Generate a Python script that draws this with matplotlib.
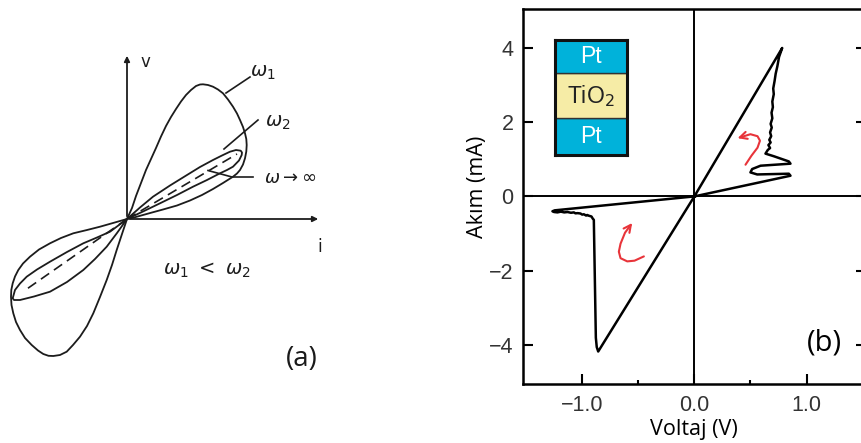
import matplotlib.pyplot as plt
from matplotlib.path import Path
from matplotlib.patches import FancyArrowPatch

# ---- panel (a): pinched hysteresis loops (schematic, arbitrary units) ----
w1_up_i = [0, 0.5, 0.9, 1.4, 1.9, 2.4, 2.9, 3.4, 3.9, 4.4, 4.9, 5.4, 5.9, 6.4, 6.9, 7.3, 7.6,
           8.1, 8.6, 9.1, 9.6, 10.1, 10.6, 11.0, 11.3, 11.6, 11.8, 11.93, 11.97, 11.93,
           11.8, 11.6, 11.3, 11.0, 10.6, 9.6, 8.6, 7.5, 6.3, 5.0, 3.6, 2.5, 1.6, 0.7, 0]
w1_up_v = [0, 1.1, 2.3, 3.6, 4.9, 6.0, 7.1, 8.25, 9.3, 10.2, 11.0, 11.75, 12.4, 12.9, 13.3,
           13.45, 13.47, 13.4, 13.23, 12.95, 12.57, 11.95, 11.23, 10.55, 9.9, 9.2, 8.57, 8.0,
           7.4, 6.75, 6.07, 5.45, 4.9, 4.55, 4.23, 3.6, 3.0, 2.4, 1.85, 1.35, 0.95, 0.65, 0.4,
           0.15, 0]
w2_up_i = [0, 1.3, 2.6, 4.3, 6.0, 7.3, 8.6, 9.5, 10.3, 10.9, 11.37, 11.5, 11.47, 11.2, 10.6,
           10.0, 9.3, 8.0, 6.6, 5.0, 3.3, 1.6, 0]
w2_up_v = [0, 1.15, 2.23, 3.35, 4.4, 5.2, 5.9, 6.35, 6.73, 6.9, 6.83, 6.65, 6.4, 5.85, 5.23,
           4.9, 4.57, 3.9, 3.23, 2.4, 1.57, 0.75, 0]
inf_up = (11.0, 6.5)

w1_lo_i = [0, -1.4, -2.7, -4.0, -5.37, -6.6, -7.7, -8.8, -9.7, -10.4, -10.87, -11.2, -11.43,
           -11.57, -11.6, -11.55, -11.37, -11.1, -10.7, -10.2, -9.53, -8.9, -8.37, -7.85,
           -7.37, -6.7, -6.03, -5.4, -4.7, -4.0, -3.37, -2.7, -2.03, -1.5, -1.03, -0.5, 0]
w1_lo_v = [0, -0.4, -0.77, -1.1, -1.43, -1.9, -2.43, -3.05, -3.77, -4.45, -5.1, -5.75, -6.43,
           -7.1, -7.77, -8.6, -9.43, -10.3, -11.1, -11.9, -12.6, -13.15, -13.5, -13.68,
           -13.7, -13.6, -13.27, -12.6, -11.77, -10.7, -9.43, -7.8, -6.1, -4.6, -3.1, -1.5, 0]
w2_lo_i = [0, -0.8, -1.7, -3.0, -4.37, -6.0, -7.7, -9.0, -10.03, -10.7, -11.2, -11.43, -11.3,
           -10.7, -9.3, -7.7, -6.0, -4.37, -3.2, -2.03, -1.0, 0]
w2_lo_v = [0, -0.6, -1.27, -1.85, -2.43, -3.3, -4.27, -5.05, -5.77, -6.45, -7.1, -7.93, -8.1,
           -8.1, -7.75, -7.27, -6.3, -5.1, -4.0, -2.77, -1.4, 0]
inf_lo = (-10.3, -7.2)

# ---- panel (b): Pt/TiO2/Pt I-V sweep ----
volt = [0.0, 0.857, 0.842, 0.56, 0.50, 0.515, 0.59, 0.857, 0.842, 0.708, 0.634, 0.655,
        0.675, 0.66, 0.68, 0.668, 0.685, 0.675, 0.69, 0.68, 0.695, 0.688, 0.70, 0.695,
        0.708, 0.703, 0.715, 0.725, 0.74, 0.755, 0.783,
        0.0, -0.857, -0.87, -0.878, -0.896, -0.905, -0.917, -0.94, -0.955, -0.965, -0.985,
        -1.0, -1.015, -1.04, -1.06, -1.074, -1.10, -1.13, -1.16, -1.19, -1.22, -1.25,
        -1.265, -1.245, 0.0]
curr = [0.0, 0.556, 0.61, 0.59, 0.645, 0.735, 0.825, 0.88, 0.94, 1.08, 1.15, 1.25,
        1.30, 1.38, 1.45, 1.52, 1.62, 1.72, 1.85, 1.95, 2.1, 2.25, 2.4, 2.55,
        2.75, 2.9, 3.1, 3.3, 3.5, 3.75, 3.99,
        0.0, -4.17, -4.05, -3.8, -0.63, -0.60, -0.54, -0.52, -0.50, -0.515, -0.48,
        -0.49, -0.46, -0.45, -0.455, -0.43, -0.44, -0.42, -0.43, -0.41, -0.43, -0.42,
        -0.40, -0.375, 0.0]

arrow_up_v = [0.456, 0.509, 0.563, 0.585, 0.563, 0.500, 0.385]
arrow_up_i = [0.852, 1.094, 1.309, 1.497, 1.618, 1.672, 1.565]
arrow_lo_v = [-0.45, -0.533, -0.598, -0.658, -0.673, -0.658, -0.618, -0.554]
arrow_lo_i = [-1.613, -1.728, -1.747, -1.661, -1.487, -1.272, -0.976, -0.715]

layer_names = ['Pt', 'TiO$_2$', 'Pt']          # bottom to top
layer_thick = [36.7, 45.0, 33.3]
layer_colors = ['#00b2da', '#f6eca6', '#00b2da']
layer_text = ['white', '#222222', 'white']

xticks = [-1.0, 0.0, 1.0]
xtick_labels = ['\u22121.0', '0.0', '1.0']
yticks = [-4, -2, 0, 2, 4]
ytick_labels = ['\u22124', '\u22122', '0', '2', '4']

fig = plt.figure(figsize=(8.61, 4.43), dpi=100)

# ---------------- (a) ----------------
ink = '#1c1c1c'
axa = fig.add_axes([0, 0, 340 / 861, 1])
axa.set_xlim(-12.7, 21.3)
axa.set_ylim(-22.4, 21.9)
axa.axis('off')

axa.annotate('', xy=(19.4, 0), xytext=(0, 0),
             arrowprops=dict(arrowstyle='-|>', lw=1.3, color=ink, mutation_scale=8))
axa.annotate('', xy=(0, 16.6), xytext=(0, 0),
             arrowprops=dict(arrowstyle='-|>', lw=1.3, color=ink, mutation_scale=8))

for xs, ys in [(w1_up_i, w1_up_v), (w2_up_i, w2_up_v),
               (w1_lo_i, w1_lo_v), (w2_lo_i, w2_lo_v)]:
    axa.plot(xs, ys, color=ink, lw=1.3)
for tip in [inf_up, inf_lo]:
    axa.plot([0, tip[0]], [0, tip[1]], color=ink, lw=1.2, linestyle=(0, (6, 3.5)))

# label leaders
axa.plot([12.3, 9.9], [14.2, 12.6], color=ink, lw=1.2)
axa.plot([13.1, 9.7], [9.9, 7.0], color=ink, lw=1.2)
axa.plot([12.6, 10.5, 8.1], [4.2, 4.2, 4.85], color=ink, lw=1.2)

axa.text(1.8, 15.7, 'v', fontsize=12, color=ink, ha='center', va='center')
axa.text(19.3, -2.8, 'i', fontsize=12, color=ink, ha='center', va='center')
axa.text(13.6, 14.6, r'$\omega_1$', fontsize=14, color=ink, ha='center', va='center')
axa.text(15.1, 9.6, r'$\omega_2$', fontsize=14, color=ink, ha='center', va='center')
axa.text(16.3, 4.1, r'$\omega\rightarrow\infty$', fontsize=13, color=ink, ha='center', va='center')
axa.text(8.0, -5.1, r'$\omega_1\ <\ \omega_2$', fontsize=14, color=ink, ha='center', va='center')
axa.text(17.45, -14.0, '(a)', fontsize=20, family='Open Sans', color='#1a1a1a',
         ha='center', va='center')

# ---------------- (b) ----------------
px_left, px_right, px_bot, px_top = 522.7, 866.0, 383.5, 9.3
ax = fig.add_axes([px_left / 861, (443 - px_bot) / 443,
                   (px_right - px_left) / 861, (px_bot - px_top) / 443])
ax.set_xlim(-1.53, 1.53)
ax.set_ylim(-5.03, 5.03)

ax.axhline(0, color='black', lw=1.4)
ax.axvline(0, color='black', lw=1.4)
ax.plot(volt, curr, color='black', lw=1.8)

red = '#e8343a'
for xs, ys in [(arrow_up_v, arrow_up_i), (arrow_lo_v, arrow_lo_i)]:
    arr = FancyArrowPatch(path=Path(list(zip(xs, ys))), arrowstyle='->',
                          mutation_scale=13, lw=1.5, color=red)
    ax.add_patch(arr)

for s in ax.spines.values():
    s.set_linewidth(1.8)
    s.set_color('black')

ax.set_xticks(xticks)
ax.set_xticklabels(xtick_labels)
ax.set_xticks([-0.5, 0.5], minor=True)
ax.set_yticks(yticks)
ax.set_yticklabels(ytick_labels)
ax.tick_params(which='both', direction='in', right=True, top=False, width=1.5,
               color='black', labelcolor='#333333', labelsize=15.5)
ax.tick_params(which='major', length=7)
ax.tick_params(which='minor', length=3)
ax.tick_params(axis='x', pad=8)
ax.tick_params(axis='y', pad=6.5)
for lab in ax.get_xticklabels() + ax.get_yticklabels():
    lab.set_family('Liberation Sans')

ax.text(1.16, -3.93, '(b)', fontsize=21, family='Open Sans', color='black',
        ha='center', va='center')

fig.text(477 / 861, 1 - 186.7 / 443, 'Ak\u0131m (mA)', rotation=90, fontsize=15.5,
         family='Open Sans', ha='center', va='center')
fig.text(694 / 861, 1 - 429 / 443, 'Voltaj (V)', fontsize=15.5,
         family='Open Sans', ha='center', va='center')

# inset: device stack
ins = ax.inset_axes([-1.244, 1.12, 0.645, 3.09], transform=ax.transData)
bottom = 0
for name, th, col, tc in zip(layer_names, layer_thick, layer_colors, layer_text):
    ins.bar(0, th, bottom=bottom, width=1, color=col, edgecolor='#333333', lw=1)
    ins.text(0, bottom + th / 2, name, color=tc, fontsize=16.5, family='Liberation Sans',
             ha='center', va='center')
    bottom += th
ins.set_xlim(-0.5, 0.5)
ins.set_ylim(0, bottom)
ins.set_xticks([])
ins.set_yticks([])
for s in ins.spines.values():
    s.set_linewidth(2.2)
    s.set_color('#111111')

fig.savefig('out.png', dpi=100)
